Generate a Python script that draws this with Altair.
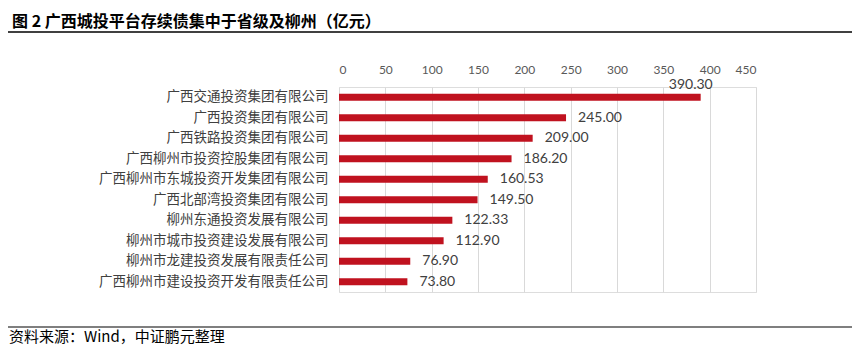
import altair as alt
import pandas as pd

categories = [
    "广西交通投资集团有限公司",
    "广西投资集团有限公司",
    "广西铁路投资集团有限公司",
    "广西柳州市投资控股集团有限公司",
    "广西柳州市东城投资开发集团有限公司",
    "广西北部湾投资集团有限公司",
    "柳州东通投资发展有限公司",
    "柳州市城市投资建设发展有限公司",
    "柳州市龙建投资发展有限责任公司",
    "广西柳州市建设投资开发有限责任公司",
]
values = [390.30, 245.00, 209.00, 186.20, 160.53, 149.50, 122.33, 112.90, 76.90, 73.80]
x_ticks = [0, 50, 100, 150, 200, 250, 300, 350, 400, 450]

title_text = "图 2 广西城投平台存续债集中于省级及柳州（亿元）"
source_text = "资料来源：Wind，中证鹏元整理"

df = pd.DataFrame({"name": categories, "value": values})
df["top"] = [i == 0 for i in range(len(df))]

CJK = "Noto Sans CJK SC"
NUM = "Lato"
RED = "#C0121F"

x_enc = alt.X("value:Q",
              scale=alt.Scale(domain=[0, 450], nice=False, zero=True),
              axis=alt.Axis(orient="top", values=x_ticks, title=None, domain=False,
                            ticks=False, grid=True, gridColor="#d9d9d9", gridWidth=1,
                            labelFont=NUM, labelFontSize=12, labelColor="#595959",
                            labelPadding=11))
y_enc = alt.Y("name:N", sort=categories,
              scale=alt.Scale(paddingInner=0.0, paddingOuter=0.0),
              axis=alt.Axis(title=None, domain=False, ticks=False, grid=False,
                            labelFont=CJK, labelFontSize=13.5, labelColor="#404040",
                            labelPadding=11, labelLimit=400))

base = alt.Chart(df)
bars = base.mark_bar(color=RED, size=7).encode(x=x_enc, y=y_enc)

labels = base.transform_filter("!datum.top").mark_text(
    align="left", baseline="middle", dx=12, font=NUM, fontSize=14, color="#404040"
).encode(x="value:Q", y=alt.Y("name:N", sort=categories), text=alt.Text("value:Q", format=".2f"))

top_label = base.transform_filter("datum.top").mark_text(
    align="right", baseline="middle", dx=12, dy=-12, font=NUM, fontSize=14, color="#404040"
).encode(x="value:Q", y=alt.Y("name:N", sort=categories), text=alt.Text("value:Q", format=".2f"))

one = alt.Data(values=[{}])
title = alt.Chart(one).mark_text(
    align="left", baseline="middle", font=CJK, fontSize=16, fontWeight="bold", color="#000000"
).encode(x=alt.value(-327), y=alt.value(-65), text=alt.value(title_text))

title_line = alt.Chart(one).mark_rule(color="#000000", strokeWidth=1.5).encode(
    x=alt.value(-331), x2=alt.value(513), y=alt.value(-55))

foot_line = alt.Chart(one).mark_rule(color="#000000", strokeWidth=1.2).encode(
    x=alt.value(-331), x2=alt.value(513), y=alt.value(240))

footer = alt.Chart(one).mark_text(
    align="left", baseline="middle", font=CJK, fontSize=15, color="#000000"
).encode(x=alt.value(-330), y=alt.value(250), text=alt.value(source_text))

chart = alt.layer(bars, labels, top_label, title, title_line, foot_line, footer).properties(
    width=417, height=205,
    padding={"left": 331, "top": 79, "right": 96, "bottom": 55},
    autosize=alt.AutoSizeParams(type="none"),
).configure_view(stroke=None).configure(background="#ffffff")

chart.save("out.html", embed_options={"renderer": "svg", "actions": False})
